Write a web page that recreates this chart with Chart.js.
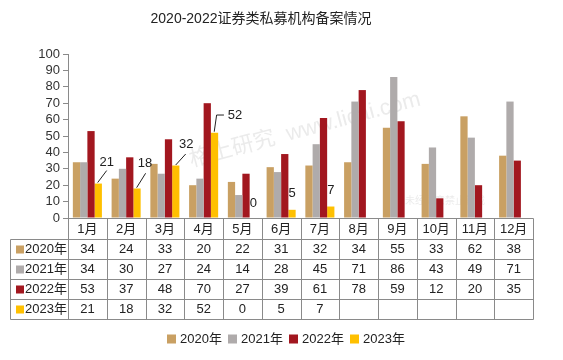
<!DOCTYPE html>
<html><head><meta charset="utf-8">
<script src="https://cdn.jsdelivr.net/npm/chart.js@4"></script>
<style>html,body{margin:0;padding:0;background:#fff}</style>
</head><body>
<canvas id="c" width="563" height="360"></canvas>
<script>
const categories = ['1月','2月','3月','4月','5月','6月','7月','8月','9月','10月','11月','12月'];
const seriesNames = ['2020年','2021年','2022年','2023年'];
const v2020 = [34,24,33,20,22,31,32,34,55,33,62,38];
const v2021 = [34,30,27,24,14,28,45,71,86,43,49,71];
const v2022 = [53,37,48,70,27,39,61,78,59,12,20,35];
const v2023 = [21,18,32,52,0,5,7,null,null,null,null,null];
const yTickValues = [0,10,20,30,40,50,60,70,80,90,100];
const chartTitle = '2020-2022证券类私募机构备案情况';
const seriesColors = ['#C9A063','#AFABAB','#A2171F','#FFC000'];

const FONT = '"Liberation Sans", "Noto Sans CJK SC", sans-serif';
const LINE = '#8a8a8a';

const extras = {
  id: 'extras',
  beforeDraw(chart) {
    const ctx = chart.ctx;
    ctx.save();
    ctx.translate(305, 130);
    ctx.rotate(-15 * Math.PI / 180);
    ctx.fillStyle = 'rgba(190,190,190,0.3)';
    ctx.font = '22px ' + FONT;
    ctx.textAlign = 'center';
    ctx.textBaseline = 'middle';
    ctx.fillText('格上研究  www.licai.com', 0, 0);
    ctx.restore();
    ctx.save();
    ctx.fillStyle = 'rgba(200,200,200,0.35)';
    ctx.font = '10px ' + FONT;
    ctx.textAlign = 'center';
    ctx.textBaseline = 'middle';
    ctx.fillText('未经同意禁止转载', 445, 201);
    ctx.restore();
  },
  afterDraw(chart) {
    const ctx = chart.ctx;
    const area = chart.chartArea;
    const xs = chart.scales.x;
    const n = categories.length;
    const cw = (area.right - area.left) / n;
    const top = Math.round(area.bottom);
    const headerH = 21, rowH = 20;
    const labelLeft = 10;
    const rows = [v2020, v2021, v2022, v2023];
    ctx.save();
    ctx.fillStyle = '#222';
    ctx.font = '14px ' + FONT;
    ctx.textAlign = 'center';
    ctx.textBaseline = 'middle';
    ctx.fillText(chartTitle, 261, 19);

    ctx.strokeStyle = LINE;
    ctx.lineWidth = 1;
    ctx.beginPath();
    const L = Math.round(area.left) + 0.5, R = Math.round(area.right) + 0.5;
    ctx.moveTo(L, top + 0.5); ctx.lineTo(R, top + 0.5);
    for (let r = 0; r <= rows.length; r++) {
      const y = top + headerH + r * rowH + 0.5;
      ctx.moveTo(labelLeft + 0.5, y); ctx.lineTo(R, y);
    }
    const bottom = top + headerH + rows.length * rowH + 0.5;
    ctx.moveTo(labelLeft + 0.5, top + headerH + 0.5); ctx.lineTo(labelLeft + 0.5, bottom);
    for (let k = 0; k <= n; k++) {
      const x = Math.round(area.left + k * cw) + 0.5;
      ctx.moveTo(x, top + 0.5); ctx.lineTo(x, bottom);
    }
    ctx.stroke();

    ctx.font = '13px ' + FONT;
    ctx.fillStyle = '#222';
    for (let i = 0; i < n; i++) {
      const cx = xs.getPixelForValue(i);
      ctx.fillText(categories[i], cx, top + headerH / 2 + 0.5);
    }
    for (let r = 0; r < rows.length; r++) {
      const cy = top + headerH + r * rowH + rowH / 2 + 0.5;
      ctx.fillStyle = seriesColors[r];
      ctx.fillRect(16, cy - 4, 8, 8);
      ctx.fillStyle = '#222';
      ctx.textAlign = 'left';
      ctx.fillText(seriesNames[r], 25, cy);
      ctx.textAlign = 'center';
      for (let i = 0; i < n; i++) {
        const v = rows[r][i];
        if (v === null || v === undefined) continue;
        ctx.fillText(String(v), xs.getPixelForValue(i), cy);
      }
    }

    const meta = chart.getDatasetMeta(3);
    const offs = [
      {dx: 8.5, dy: -21.5, line: [[-0.6, -1], [8.4, -13]]},
      {dx: 8, dy: -25.5, line: [[-0.4, -0.8], [8.6, -15.2]]},
      {dx: 10.5, dy: -21.5, line: [[-0.1, -0.5], [9.9, -11.5]]},
      {dx: 20.4, dy: -17.7, line: [[-0.3, -1], [2.1, -17.7], [9.4, -17.7]]},
      {dx: 0, dy: -15},
      {dx: 0, dy: -16},
      {dx: 0, dy: -16.5}
    ];
    ctx.font = '13px ' + FONT;
    meta.data.forEach((bar, i) => {
      const v = v2023[i];
      if (v === null || v === undefined) return;
      const o = offs[i] || {dx: 0, dy: -15};
      if (o.line) {
        ctx.strokeStyle = '#222';
        ctx.lineWidth = 1;
        ctx.beginPath();
        o.line.forEach((p, j) => {
          const px = bar.x + p[0], py = bar.y + p[1];
          if (j === 0) ctx.moveTo(px, py); else ctx.lineTo(px, py);
        });
        ctx.stroke();
      }
      ctx.fillStyle = '#222';
      ctx.textAlign = 'center';
      ctx.fillText(String(v), bar.x + o.dx, bar.y + o.dy);
    });

    ctx.font = '13px ' + FONT;
    ctx.textAlign = 'left';
    let lx = 167;
    const ly = 339;
    seriesNames.forEach((name, i) => {
      ctx.fillStyle = seriesColors[i];
      ctx.fillRect(lx, ly - 4.5, 9, 9);
      ctx.fillStyle = '#222';
      ctx.fillText(name, lx + 13, ly);
      lx += 61;
    });
    ctx.restore();
  }
};

new Chart(document.getElementById('c'), {
  type: 'bar',
  data: {
    labels: categories,
    datasets: [v2020, v2021, v2022, v2023].map((d, i) => ({
      label: seriesNames[i],
      data: d,
      backgroundColor: seriesColors[i],
      borderWidth: 0,
      barPercentage: 1,
      categoryPercentage: 0.75
    }))
  },
  options: {
    responsive: false,
    animation: false,
    devicePixelRatio: 1,
    layout: {padding: {left: 10, right: 30, top: 54, bottom: 142}},
    plugins: {legend: {display: false}, title: {display: false}, tooltip: {enabled: false}},
    scales: {
      x: {
        type: 'category',
        offset: true,
        grid: {display: false},
        border: {display: false},
        ticks: {display: false},
        afterFit: s => { s.height = 0; }
      },
      y: {
        min: 0, max: 100,
        afterBuildTicks: s => { s.ticks = yTickValues.map(v => ({value: v})); },
        ticks: {font: {size: 13, family: FONT}, color: '#333', padding: 3, autoSkip: false},
        grid: {drawOnChartArea: false, drawTicks: true, tickLength: 5, color: LINE},
        border: {color: LINE},
        afterFit: s => { s.width = 58; }
      }
    }
  },
  plugins: [extras]
});
</script>
</body></html>
